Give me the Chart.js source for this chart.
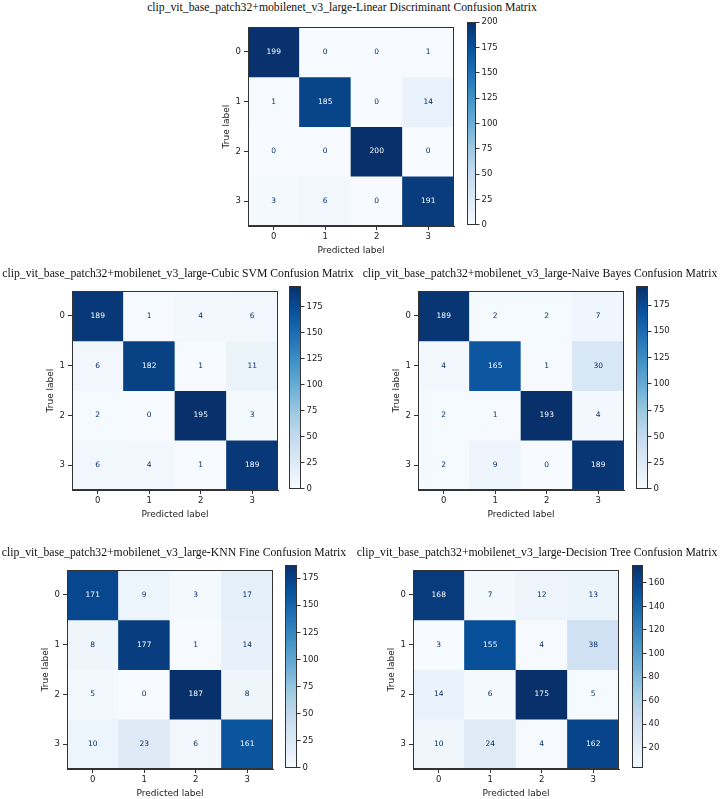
<!DOCTYPE html>
<html><head><meta charset="utf-8">
<script src="https://cdn.jsdelivr.net/npm/chart.js@4"></script>
<style>
html,body{margin:0;padding:0;background:#fff}
body{width:720px;height:799px;position:relative;overflow:hidden}
canvas{position:absolute}
.t{position:absolute;font-family:"Liberation Serif","Times New Roman",serif;font-size:11.7px;line-height:14px;white-space:nowrap;text-align:center;width:460px;color:#111}
</style></head><body>
<script>
// ---- data ----
const classLabels = ['0', '1', '2', '3'];
const ldaMatrix = [[199, 0, 0, 1], [1, 185, 0, 14], [0, 0, 200, 0], [3, 6, 0, 191]];
const svmMatrix = [[189, 1, 4, 6], [6, 182, 1, 11], [2, 0, 195, 3], [6, 4, 1, 189]];
const nbMatrix = [[189, 2, 2, 7], [4, 165, 1, 30], [2, 1, 193, 4], [2, 9, 0, 189]];
const knnMatrix = [[171, 9, 3, 17], [8, 177, 1, 14], [5, 0, 187, 8], [10, 23, 6, 161]];
const dtMatrix = [[168, 7, 12, 13], [3, 155, 4, 38], [14, 6, 175, 5], [10, 24, 4, 162]];
const ticksTo200 = [0, 25, 50, 75, 100, 125, 150, 175, 200];
const ticksTo175 = [0, 25, 50, 75, 100, 125, 150, 175];
const ticks20to160 = [20, 40, 60, 80, 100, 120, 140, 160];
const titleLDA = 'clip_vit_base_patch32+mobilenet_v3_large-Linear Discriminant Confusion Matrix';
const titleSVM = 'clip_vit_base_patch32+mobilenet_v3_large-Cubic SVM Confusion Matrix';
const titleNB = 'clip_vit_base_patch32+mobilenet_v3_large-Naive Bayes Confusion Matrix';
const titleKNN = 'clip_vit_base_patch32+mobilenet_v3_large-KNN Fine Confusion Matrix';
const titleDT = 'clip_vit_base_patch32+mobilenet_v3_large-Decision Tree Confusion Matrix';
const xAxisTitle = 'Predicted label';
const yAxisTitle = 'True label';

// ---- layout (positions) ----
const panels = [
  {m: ldaMatrix, ticks: ticksTo200, title: titleLDA, plot: [248, 21, 454, 226], cb: [467, 476], tcx: 342, tcy: 8},
  {m: svmMatrix, ticks: ticksTo175, title: titleSVM, plot: [72, 285, 278, 490], cb: [289, 301], tcx: 178, tcy: 274},
  {m: nbMatrix, ticks: ticksTo175, title: titleNB, plot: [418, 285, 624, 490], cb: [636, 648], tcx: 540, tcy: 274},
  {m: knnMatrix, ticks: ticksTo175, title: titleKNN, plot: [67, 564, 273, 769], cb: [285, 297], tcx: 174, tcy: 553},
  {m: dtMatrix, ticks: ticks20to160, title: titleDT, plot: [413, 564, 619, 769], cb: [632, 643], tcx: 537, tcy: 553}
];

const BLUES = ['#f7fbff', '#deebf7', '#c6dbef', '#9ecae1', '#6baed6', '#4292c6', '#2171b5', '#08519c', '#08306b'];
function hex(c) { return [parseInt(c.slice(1, 3), 16), parseInt(c.slice(3, 5), 16), parseInt(c.slice(5, 7), 16)]; }
function blues(t) {
  t = Math.max(0, Math.min(1, t));
  const p = t * 8, k = Math.min(7, Math.floor(p)), f = p - k;
  const a = hex(BLUES[k]), b = hex(BLUES[k + 1]);
  return 'rgb(' + a.map((v, i) => Math.round(v + (b[i] - v) * f)).join(',') + ')';
}
const tickFont = {family: 'DejaVu Sans', size: 8.5};
const labelFont = {family: 'DejaVu Sans', size: 9};
const axisColor = '#333';
const textColor = '#222';

const framePlugin = {
  id: 'frame',
  afterDraw(chart) {
    const a = chart.chartArea, c = chart.ctx;
    c.save(); c.strokeStyle = axisColor; c.lineWidth = 1;
    c.strokeRect(Math.round(a.left) + 0.5, Math.round(a.top) + 0.5, Math.round(a.right - a.left) - 1, Math.round(a.bottom - a.top) - 1);
    c.restore();
  }
};
const cellTextPlugin = {
  id: 'cellText',
  afterDatasetsDraw(chart) {
    const c = chart.ctx;
    c.save();
    c.font = '7.5px "DejaVu Sans"';
    c.textAlign = 'center'; c.textBaseline = 'middle';
    chart.data.datasets.forEach((ds, i) => {
      chart.getDatasetMeta(i).data.forEach((el, j) => {
        const {x, y, base} = el.getProps(['x', 'y', 'base'], true);
        const v = ds.values[j];
        c.fillStyle = v < ds.thresh ? BLUES[8] : BLUES[0];
        c.fillText(String(v), x, (y + base) / 2);
      });
    });
    c.restore();
  }
};

function addCanvas(left, top, w, h) {
  const cv = document.createElement('canvas');
  cv.width = w; cv.height = h;
  cv.style.left = left + 'px'; cv.style.top = top + 'px';
  cv.style.width = w + 'px'; cv.style.height = h + 'px';
  document.body.appendChild(cv);
  return cv;
}

function makePanel(p) {
  const flat = p.m.flat();
  const vmin = Math.min(...flat), vmax = Math.max(...flat);
  const thresh = (vmin + vmax) / 2;
  const [L, T, R, B] = p.plot;
  const padL = 30, padB = 30, padT = 2, padR = 2;
  const cv = addCanvas(L - padL, T - padT, (R - L) + padL + padR, (B - T) + padT + padB);
  const datasets = p.m.map((row, i) => ({
    data: row.map(() => [i - 0.5, i + 0.5]),
    values: row,
    thresh: thresh,
    backgroundColor: row.map(v => blues((v - vmin) / (vmax - vmin))),
    borderWidth: 0, barPercentage: 1, categoryPercentage: 1, grouped: false
  }));
  new Chart(cv, {
    type: 'bar',
    data: {labels: classLabels, datasets},
    options: {
      responsive: false, animation: false, devicePixelRatio: 1,
      layout: {padding: {left: 0, top: padT, right: padR, bottom: 0}},
      plugins: {legend: {display: false}, tooltip: {enabled: false}, title: {display: false}},
      scales: {
        x: {
          type: 'category', offset: true,
          grid: {display: true, drawOnChartArea: false, drawTicks: true, tickLength: 4, offset: false, color: axisColor},
          border: {display: true, color: axisColor},
          ticks: {font: tickFont, color: textColor, padding: 2, maxRotation: 0},
          title: {display: true, text: xAxisTitle, font: labelFont, color: textColor, padding: 0},
          afterFit: s => { s.height = padB; }
        },
        y: {
          type: 'linear', reverse: true, min: -0.5, max: 3.5,
          afterBuildTicks: s => { s.ticks = classLabels.map((l, i) => ({value: i})); },
          grid: {display: true, drawOnChartArea: false, drawTicks: true, tickLength: 4, color: axisColor},
          border: {display: true, color: axisColor},
          ticks: {font: tickFont, color: textColor, padding: 3, callback: v => classLabels[v]},
          title: {display: true, text: yAxisTitle, font: labelFont, color: textColor, padding: {top: 3, bottom: 0}},
          afterFit: s => { s.width = padL; }
        }
      }
    },
    plugins: [cellTextPlugin, framePlugin]
  });

  // colorbar
  const [x0, x1] = p.cb;
  const cbPadR = 30, cbPadT = 6, cbPadB = 6;
  const cv2 = addCanvas(x0, T - cbPadT, (x1 - x0) + cbPadR, (B - T) + cbPadT + cbPadB);
  new Chart(cv2, {
    type: 'bar',
    data: {labels: [''], datasets: [{
      data: [[vmin, vmax]],
      backgroundColor: ctx => {
        const ch = ctx.chart;
        if (!ch.chartArea) return BLUES[4];
        const y = ch.scales.y;
        const g = ch.ctx.createLinearGradient(0, y.getPixelForValue(vmin), 0, y.getPixelForValue(vmax));
        BLUES.forEach((col, k) => g.addColorStop(k / 8, col));
        return g;
      },
      borderWidth: 0, barPercentage: 1, categoryPercentage: 1
    }]},
    options: {
      responsive: false, animation: false, devicePixelRatio: 1,
      layout: {padding: {left: 0, top: cbPadT, right: 0, bottom: cbPadB}},
      plugins: {legend: {display: false}, tooltip: {enabled: false}},
      scales: {
        x: {display: false},
        y: {
          position: 'right', min: vmin, max: vmax,
          afterBuildTicks: s => { s.ticks = p.ticks.map(v => ({value: v})); },
          grid: {display: true, drawOnChartArea: false, drawTicks: true, tickLength: 3.5, color: axisColor},
          border: {display: false},
          ticks: {font: tickFont, color: textColor, padding: 2},
          afterFit: s => { s.width = cbPadR; }
        }
      }
    },
    plugins: [framePlugin]
  });

  const d = document.createElement('div');
  d.className = 't';
  d.textContent = p.title;
  d.style.left = (p.tcx - 230) + 'px';
  d.style.top = (p.tcy - 7) + 'px';
  document.body.appendChild(d);
}
panels.forEach(makePanel);
</script>
</body></html>
